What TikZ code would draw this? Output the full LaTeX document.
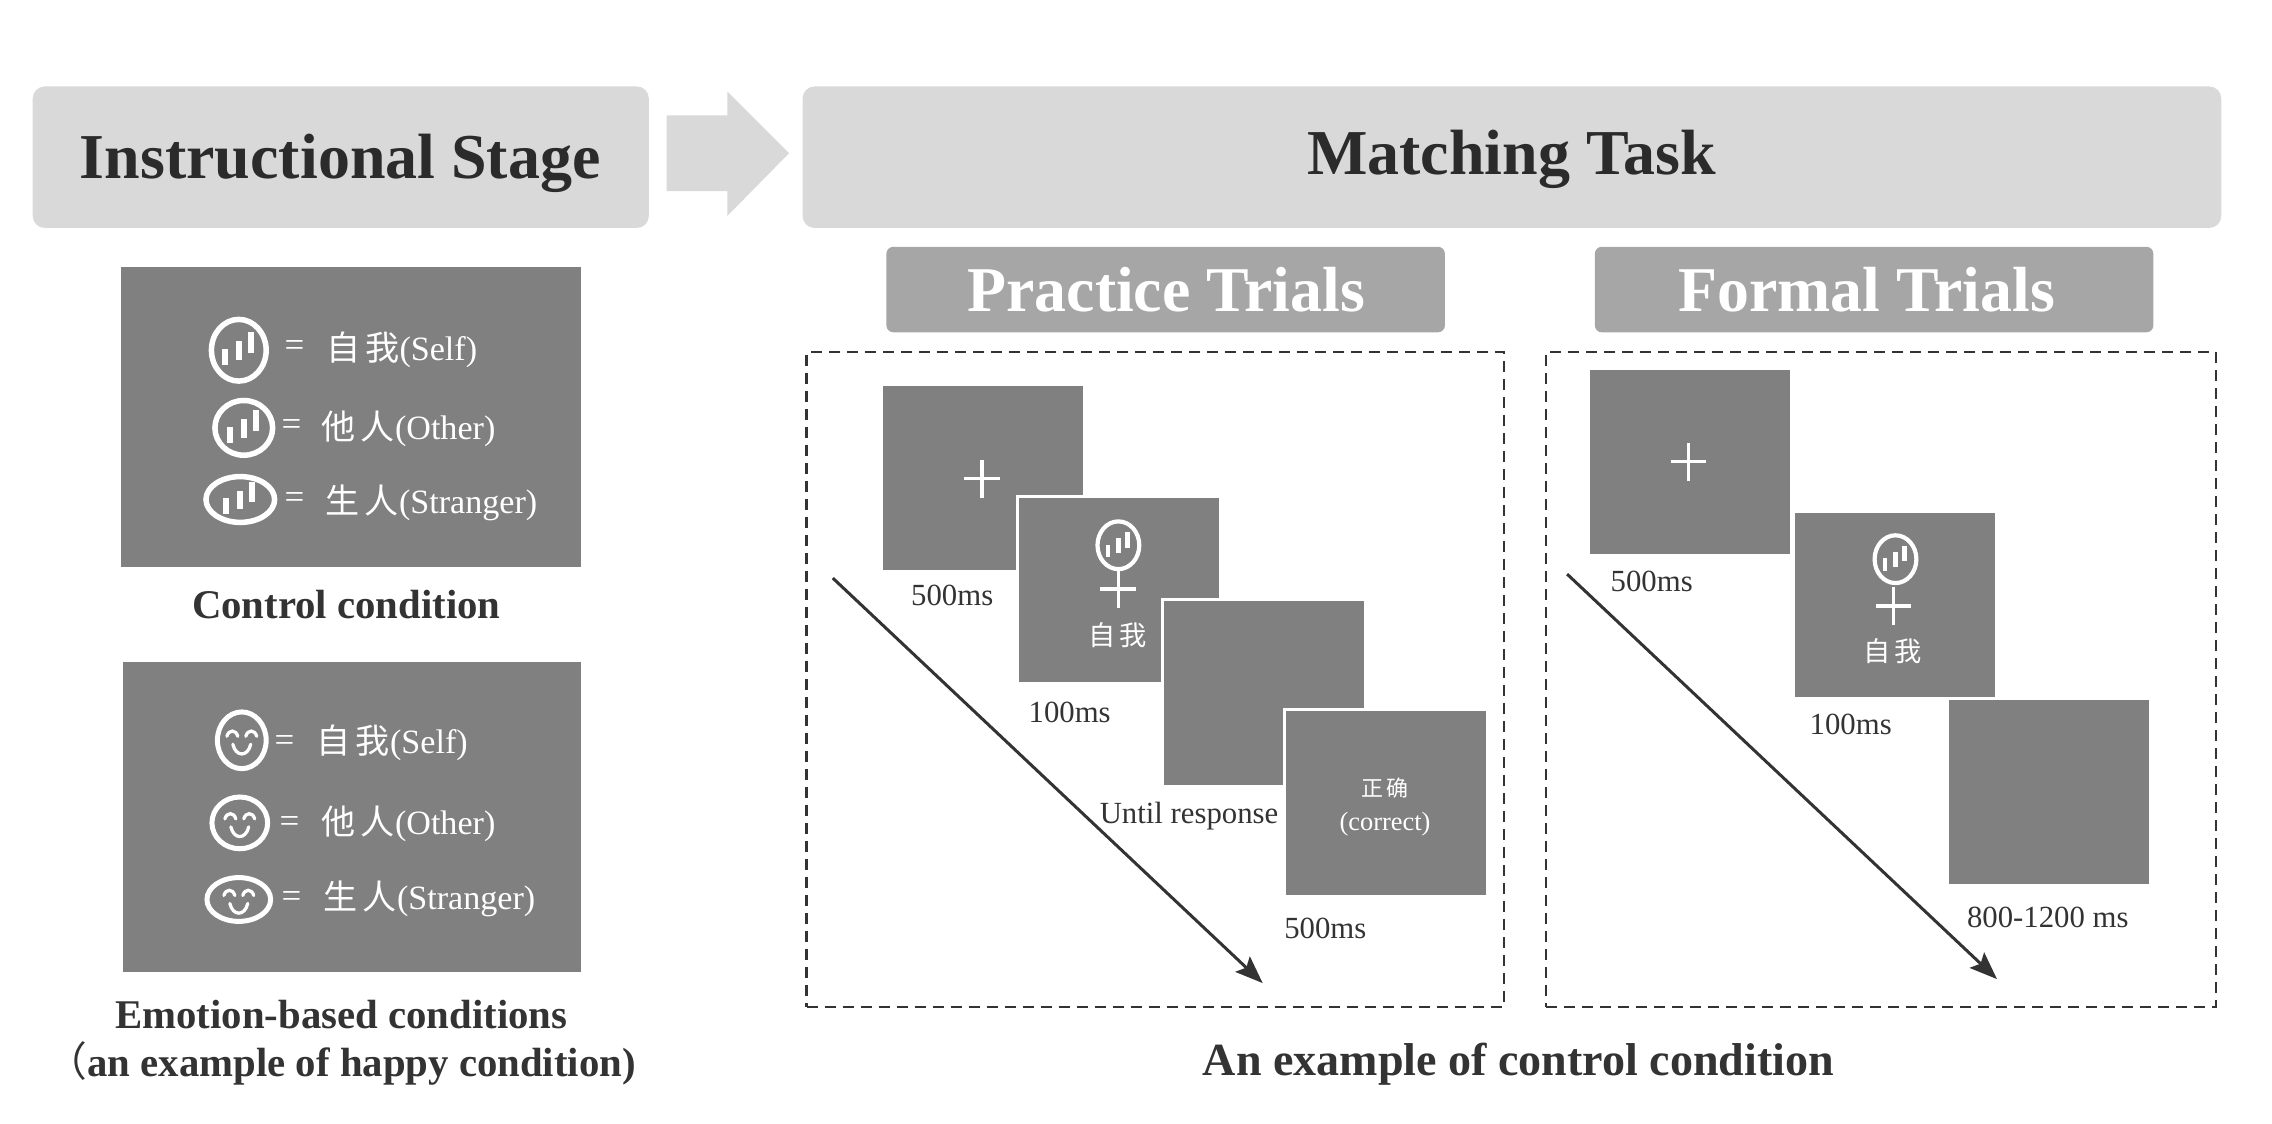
\documentclass[tikz,border=0pt]{standalone}
\usepackage{fontspec}
\setmainfont{Liberation Serif}
\newfontfamily\cjk{Noto Sans CJK SC}
\usetikzlibrary{arrows.meta}
\definecolor{darktext}{HTML}{333333}
\definecolor{screengray}{HTML}{808080}
\definecolor{headgray}{HTML}{D9D9D9}
\definecolor{subgray}{HTML}{A6A6A6}
\tikzstyle{headbox}=[rectangle,fill=headgray,rounded corners=0.24cm,inner sep=0pt,
                     minimum height=2.83cm]
\tikzstyle{headtext}=[inner sep=0pt,text=darktext!85!black,font=\fontsize{36.4}{40}\selectfont\bfseries]
\tikzstyle{subbox}=[rectangle,fill=subgray,rounded corners=0.14cm,inner sep=0pt,
                    minimum width=11.17cm,minimum height=1.71cm]
\tikzstyle{subtext}=[inner sep=0pt,text=white,font=\fontsize{36.3}{40}\selectfont\bfseries]
\tikzstyle{panel}=[rectangle,fill=screengray,inner sep=0pt]
\tikzstyle{screen}=[rectangle,fill=screengray,draw=white,line width=0.06cm,inner sep=0pt,
                    minimum width=4.06cm,minimum height=3.74cm]
\tikzstyle{frame}=[rectangle,draw=darktext,line width=0.05cm,dash pattern=on 0.22cm off 0.14cm,
                   minimum height=13.1cm]
\tikzstyle{caption}=[inner sep=0pt,text=darktext,align=center,font=\fontsize{23.2}{27.5}\selectfont\bfseries]
\tikzstyle{timing}=[inner sep=0pt,text=darktext,font=\fontsize{17.5}{20}\selectfont]
\tikzstyle{legend}=[inner sep=0pt,text=white,anchor=base west,font=\fontsize{19.4}{22}\selectfont]
\tikzstyle{equal}=[inner sep=0pt,text=white,font=\fontsize{19.9}{22}\selectfont]
\tikzstyle{onscreen}=[inner sep=0pt,text=white,align=center,font=\fontsize{15}{19}\selectfont]
\tikzstyle{timeline}=[draw=darktext,line width=0.06cm,-{Stealth[length=0.55cm,width=0.42cm,inset=0.1cm]}]
\newcommand\cjkword[2]{{\cjk #1\hspace{0.15em}#2}}
\newcommand\fixcross[2]{\draw [white,line width=0.07cm] (#1-18,#2) -- (#1+18,#2) (#1,#2-19) -- (#1,#2+19);}
\newcommand\baricon[5][1]{
  \begin{scope}[shift={(#2,#3)}]
    \draw [white,line width=#1*0.11cm] (0,0) ellipse (#4 and #5);
    \begin{scope}[scale=#1]
      \fill [white] (-17,-1) rectangle (-11,15);
      \fill [white] (-3,-9) rectangle (3,10);
      \fill [white] (9,-18) rectangle (15,3);
    \end{scope}
  \end{scope}
}
\newcommand\smileicon[4]{
  \begin{scope}[shift={(#1,#2)}]
    \draw [white,line width=0.1cm] (0,0) ellipse (#3 and #4);
    \draw [white,line width=0.065cm,line cap=round]
      (-15,-4) .. controls (-13,-11) and (-6,-11) .. (-4,-4)
      (4,-4) .. controls (6,-11) and (13,-11) .. (15,-4)
      (-9,4) .. controls (-6,17) and (6,17) .. (9,4);
  \end{scope}
}

\begin{document}
\begin{tikzpicture}[x=0.0199cm,y=-0.0199cm]
    \useasboundingbox (0,0) rectangle (2283.4,1129.6);
    % headers
    \node [headbox,minimum width=12.32cm] (Instructional) at (342.5,158) {};
    \node [headtext] (Instructional title) at (342,164) {Instructional Stage};
    \fill [headgray] (670,116) -- (731,116) -- (731,92) -- (793,154) -- (731,217) -- (731,192) -- (670,192) -- cycle;
    \node [headbox,minimum width=28.37cm] (Matching) at (1519.5,158) {};
    \node [headtext] (Matching title) at (1519,160) {Matching Task};
    \node [subbox] (Practice Trials) at (1171.5,291) {};
    \node [subtext] (Practice title) at (1172,291) {Practice Trials};
    \node [subbox] (Formal Trials) at (1883.5,291) {};
    \node [subtext] (Formal title) at (1876,291) {Formal Trials};
    % instructional stage
    \node [panel,minimum width=9.2cm,minimum height=6.01cm] (Control panel) at (352.5,419) {};
    \baricon{240}{352}{27.5}{31}
    \baricon{245}{430}{29}{27.5}
    \baricon{241.5}{502}{34.5}{23}
    \node [equal] (Equal self) at (296,350) {=};
    \node [equal] (Equal other) at (293,430) {=};
    \node [equal] (Equal stranger) at (296,503) {=};
    \node [legend] (Control self) at (327.5,362) {\cjkword{自}{我}(Self)};
    \node [legend] (Control other) at (323,442) {\cjkword{他}{人}(Other)};
    \node [legend] (Control stranger) at (327,516) {\cjkword{生}{人}(Stranger)};
    \node [caption] (Control caption) at (348,608) {Control condition};
    \node [panel,minimum width=9.16cm,minimum height=6.21cm] (Emotion panel) at (353.5,821) {};
    \smileicon{243}{744}{24.5}{28.5}
    \smileicon{241}{827}{28}{26}
    \smileicon{240}{904}{32}{22}
    \node [equal] (Equal self happy) at (286,747) {=};
    \node [equal] (Equal other happy) at (291,829) {=};
    \node [equal] (Equal stranger happy) at (293,904) {=};
    \node [legend] (Happy self) at (318,757) {\cjkword{自}{我}(Self)};
    \node [legend] (Happy other) at (323,839) {\cjkword{他}{人}(Other)};
    \node [legend] (Happy stranger) at (325,914) {\cjkword{生}{人}(Stranger)};
    \node [caption] (Emotion caption) at (343,1048) {Emotion-based conditions\\{\cjk\mdseries （}an example of happy condition)};
    % practice trials
    \node [frame,minimum width=13.94cm] (Practice frame) at (1161,683) {};
    \node [screen] (Practice fixation) at (987.5,480) {};
    \fixcross{987}{481}
    \node [timing] (Practice fixation time) at (957,598) {500ms};
    \node [screen] (Practice target) at (1124.5,593) {};
    \baricon[0.76]{1124}{548}{21}{24}
    \fixcross{1124}{592}
    \node [onscreen,font=\fontsize{15.5}{18}\selectfont] (Practice word) at (1123,638) {\cjkword{自}{我}};
    \node [timing] (Practice target time) at (1075,716) {100ms};
    \node [screen] (Practice blank) at (1270,696) {};
    \node [timing] (Practice blank time) at (1195,820) {Until response};
    \node [screen] (Practice feedback) at (1392.5,807) {};
    \node [onscreen] (Practice correct) at (1392,811) {{\cjk\fontsize{12.5}{15}\selectfont 正\hspace{0.15em}确}\\(correct)};
    \node [timing] (Practice feedback time) at (1332,933) {500ms};
    \coordinate (Practice start) at (837,581);
    \coordinate (Practice end) at (1269,988);
    \draw [timeline] (Practice start) -- (Practice end);
    % formal trials
    \node [frame,minimum width=13.4cm] (Formal frame) at (1890.5,683) {};
    \node [screen] (Formal fixation) at (1698,464) {};
    \fixcross{1697}{464}
    \node [timing] (Formal fixation time) at (1660,584) {500ms};
    \node [screen] (Formal target) at (1904.5,608) {};
    \baricon[0.76]{1905}{562}{21}{24}
    \fixcross{1903}{609}
    \node [onscreen,font=\fontsize{15.5}{18}\selectfont] (Formal word) at (1902,654) {\cjkword{自}{我}};
    \node [timing] (Formal target time) at (1860,728) {100ms};
    \node [screen] (Formal blank) at (2059.5,796) {};
    \node [timing] (Formal blank time) at (2058,922) {800-1200 ms};
    \coordinate (Formal start) at (1575,577);
    \coordinate (Formal end) at (2007,984);
    \draw [timeline] (Formal start) -- (Formal end);
    \node [caption,font=\fontsize{26.2}{30}\selectfont\bfseries] (Matching caption) at (1526,1070) {An example of control condition};
\end{tikzpicture}
\end{document}
